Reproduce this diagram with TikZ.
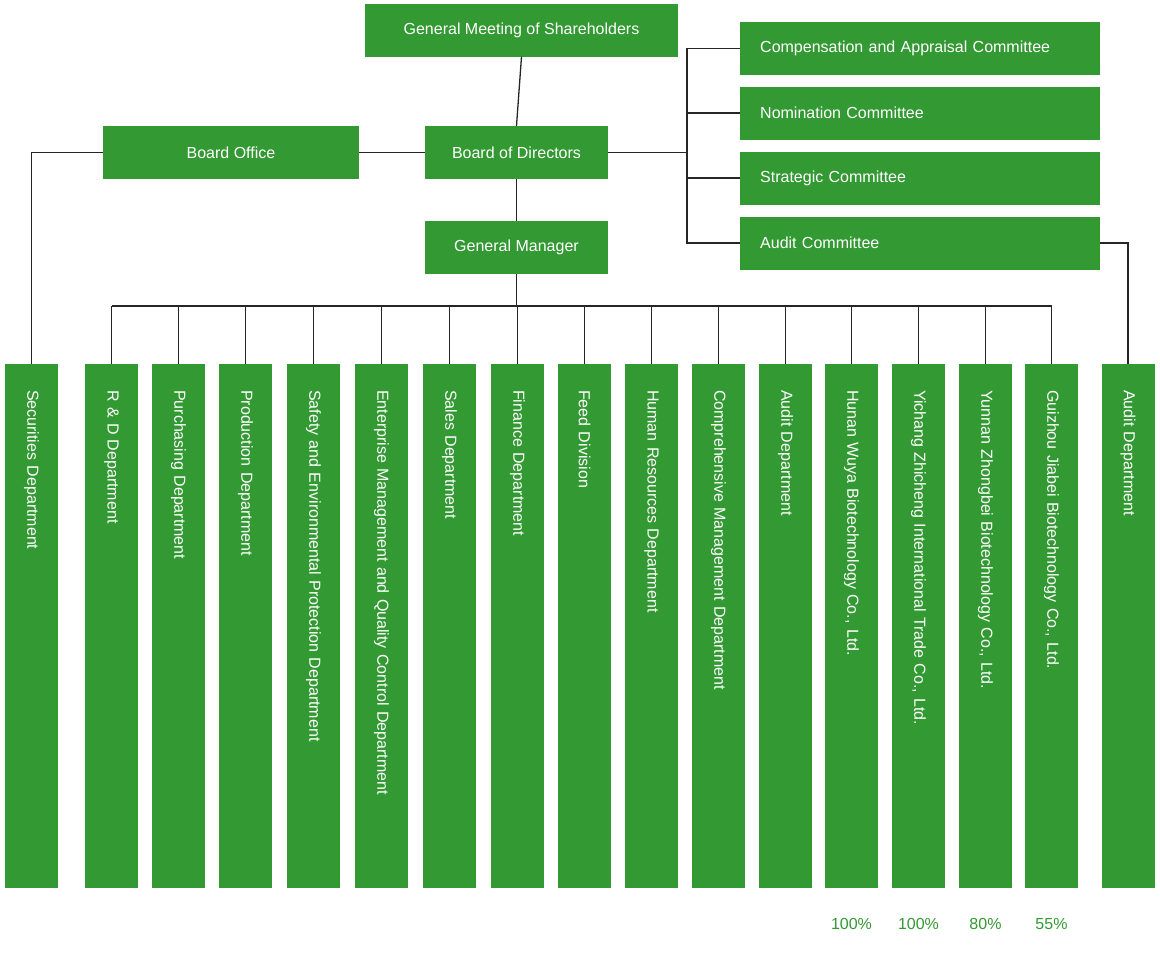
\documentclass[tikz,border=0pt]{standalone}
\usepackage{fontspec}
\setmainfont{Liberation Sans}
\definecolor{gr}{HTML}{339933}
\begin{document}
\begin{tikzpicture}[x=1pt,y=-1pt,
 box/.style={fill=gr,text=white,inner sep=0pt,font=\fontsize{16}{19}\selectfont,minimum height=53pt},
 com/.style={box,anchor=west,minimum width=360pt,text width=320pt,align=left,inner xsep=20pt},
 col/.style={box,rotate=-90,anchor=west,minimum width=524pt,text width=472pt,align=left,inner xsep=26pt},
 ln/.style={draw=black!85,line width=1.3pt},
 pct/.style={text=gr,font=\fontsize{16}{19}\selectfont}]
\useasboundingbox (0,0) rectangle (1160,954);
\node[box,minimum width=313pt] (gms) at (521.5,30) {General Meeting of Shareholders};
\node[box,minimum width=183pt] (bod) at (516.5,152.5) {Board of Directors};
\node[box,minimum width=256pt] (bo) at (231,152.5) {Board Office};
\node[box,minimum width=183pt] (gm) at (516.5,247.5) {General Manager};
\node[com] (c1) at (740,48.5) {Compensation and Appraisal Committee};
\node[com] (c2) at (740,113) {Nomination Committee};
\node[com] (c3) at (740,178) {Strategic Committee};
\node[com] (c4) at (740,243) {Audit Committee};
\foreach \n/\x/\t in {sec/31.5/{Securities Department},rd/111.5/{R \& D Department},pur/178.5/{Purchasing Department},pro/245.5/{Production Department},saf/313.5/{Safety and Environmental Protection Department},ent/381.5/{Enterprise Management and Quality Control Department},sal/449.5/{Sales Department},fin/517.5/{Finance Department},feed/584.5/{Feed Division},hr/651.5/{Human Resources Department},cmp/718.5/{Comprehensive Management Department},aud/785.5/{Audit Department},hun/851.5/{Hunan Wuya Biotechnology Co., Ltd.},yic/918.5/{Yichang Zhicheng International Trade Co., Ltd.},yun/985.5/{Yunnan Zhongbei Biotechnology Co., Ltd.},gui/1051.5/{Guizhou Jiabei Biotechnology Co., Ltd.},aud2/1128/{Audit Department}}
  \node[col] (\n) at (\x,364) {\t};
\draw[ln] (gms.south) -- (bod.north);
\draw[ln] (bod.south) -- (gm.north);
\draw[ln] (bo.east) -- (bod.west);
\draw[ln] (bod.east) -- (687,152.5);
\draw[ln] (c1.west) -- (687,48.5) -- (687,243) -- (c4.west);
\draw[ln] (c2.west) -- (687,113);
\draw[ln] (c3.west) -- (687,178);
\draw[ln] (bo.west) -| (sec.west);
\draw[ln] (c4.east) -| (aud2.west);
\coordinate (bus) at (516.5,306);
\draw[ln] (gm.south) -- (bus);
\draw[ln] (rd.west |- bus) -- (gui.west |- bus);
\foreach \n in {rd,pur,pro,saf,ent,sal,fin,feed,hr,cmp,aud,hun,yic,yun,gui}
  \draw[ln] (\n.west |- bus) -- (\n.west);
\node[pct] (p1) at (851.5,924) {100\%};
\node[pct] (p2) at (918.5,924) {100\%};
\node[pct] (p3) at (985.5,924) {80\%};
\node[pct] (p4) at (1051.5,924) {55\%};
\end{tikzpicture}
\end{document}
